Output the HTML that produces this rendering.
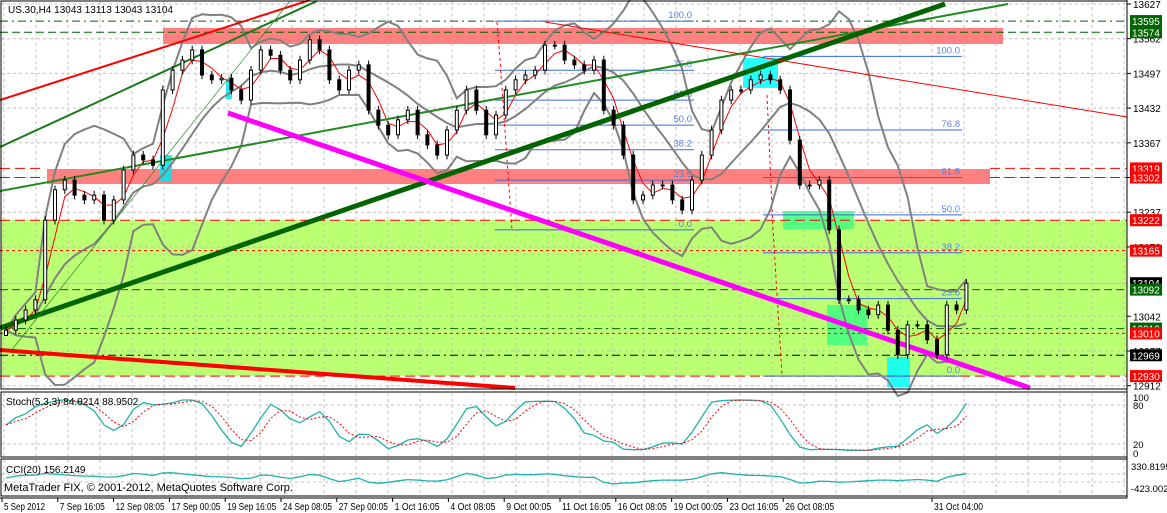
<!DOCTYPE html>
<html><head><meta charset="utf-8"><style>
body{margin:0;background:#fff;width:1167px;height:513px;overflow:hidden}
svg{display:block;font-family:"Liberation Sans",sans-serif;font-size:10.5px}
</style></head><body>
<svg id="c" width="1167" height="513">
<g id="g"></g>
</svg>
<script>
const closes=[13016,13035,13054,13073,13222,13279,13297,13269,13260,13269,13222,13260,13316,13344,13335,13325,13466,13503,13522,13541,13494,13485,13488,13466,13447,13503,13541,13531,13503,13485,13522,13560,13541,13485,13466,13503,13513,13428,13400,13382,13410,13428,13382,13363,13344,13391,13428,13466,13428,13382,13419,13466,13485,13494,13503,13550,13550,13522,13513,13503,13522,13428,13400,13344,13260,13269,13288,13288,13260,13241,13297,13344,13391,13447,13466,13466,13485,13494,13485,13466,13372,13288,13288,13297,13204,13073,13073,13054,13045,13063,13016,12970,13026,13026,12998,12970,13063,13054,13104];
const priceTicks=[13627,13562,13497,13432,13367,13302,13237,13172,13042,12977,12912];
const timeLabels=["5 Sep 2012","7 Sep 16:05","12 Sep 08:05","17 Sep 00:05","19 Sep 16:05","24 Sep 08:05","27 Sep 00:05","1 Oct 16:05","4 Oct 08:05","9 Oct 00:05","11 Oct 16:05","16 Oct 08:05","19 Oct 00:05","23 Oct 16:05","26 Oct 08:05","31 Oct 04:00"];
const fibLevels=["100.0","76.8","61.8","50.0","38.2","23.6","0.0"];
const fibLeft=[13595,13503,13447,13400,13354,13297,13204];
const fibRight=[13529,13391,13302,13232,13161,13075,12930];

const NS="http://www.w3.org/2000/svg";
const G=document.getElementById('g');
function el(t,a,txt){const e=document.createElementNS(NS,t);for(const k in a)e.setAttribute(k,a[k]);if(txt!==undefined)e.textContent=txt;G.appendChild(e);return e;}
const py=p=>4+(13627-p)*34.7/65;
const bx=i=>6+i*9.8;
const W=1127;

let e=el('rect',{x:1,y:py(13222),width:W-1,height:py(12930)-py(13222),fill:'#bbff73'});

for(let x=4;x<W;x+=32){el('line',{x1:x,y1:1,x2:x,y2:389,stroke:'#c0c0c0','stroke-dasharray':'3,3'});el('line',{x1:x,y1:393,x2:x,y2:457,stroke:'#c0c0c0','stroke-dasharray':'3,3'});el('line',{x1:x,y1:460,x2:x,y2:495,stroke:'#c0c0c0','stroke-dasharray':'3,3'});}
priceTicks.forEach(p=>el('line',{x1:1,y1:py(p),x2:W,y2:py(p),stroke:'#c0c0c0','stroke-dasharray':'3,3'}));
[405,444].forEach(y=>el('line',{x1:1,y1:y,x2:W,y2:y,stroke:'#c0c0c0','stroke-dasharray':'3,3'}));
[474,482].forEach(y=>el('line',{x1:1,y1:y,x2:W,y2:y,stroke:'#c0c0c0','stroke-dasharray':'3,3'}));

e=el('rect',{x:163,y:28,width:840,height:16,fill:'#ff8080'});
e=el('rect',{x:47,y:169,width:943,height:15,fill:'#ff8080'});
[[160,155,12,27,'#00e5ee'],[226,79,6,20,'#00e5ee'],[743,58,35,30,'#00ffff'],[783,211,71,18,'#40ff80'],[827,305,40,40,'#40ff80'],[887,357,23,30,'#00ffff']].forEach(b=>el('rect',{x:b[0],y:b[1],width:b[2],height:b[3],fill:b[4],opacity:.85}));

function hl(p,c,d,x1=0){el('line',{x1:x1,y1:py(p),x2:W,y2:py(p),stroke:c,'stroke-dasharray':d});}
hl(13595,'#006400','8,4,2,4');hl(13574,'#006400','8,4');hl(13319,'#f00','10,5',990);hl(13302,'#f00','10,5',990);
el('line',{x1:0,y1:py(13319),x2:45,y2:py(13319),stroke:'#f00','stroke-dasharray':'10,5'});el('line',{x1:0,y1:py(13302),x2:45,y2:py(13302),stroke:'#f00','stroke-dasharray':'10,5'});
hl(13222,'#f00','10,5');hl(13165,'#f00','3,3');hl(13104,'#c0c0c0','');hl(13092,'#006400','8,4');hl(13092,'#ff00ff','3,9');
hl(13019,'#006400','8,4,2,4');hl(13010,'#f00','3,3');hl(12969,'#000','8,4,2,4');hl(12930,'#f00','10,5');

function fib(arr,x1,x2,name){arr.forEach((p,i)=>{const l=el('line',{x1:x1,y1:py(p),x2:x2,y2:py(p),stroke:'#3a6bdc'});el('text',{x:x2-2,y:py(p)-3,fill:'#5a80e0','text-anchor':'end','font-size':'9.5'},fibLevels[i]);});}
fib(fibLeft,495,694,'fib-left');fib(fibRight,763,962,'fib-right');
el('polyline',{points:'497,22 500,60 512,230',fill:'none',stroke:'#f00','stroke-dasharray':'3,3'});
el('polyline',{points:'767,95 773,230 782,375',fill:'none',stroke:'#f00','stroke-dasharray':'3,3'});

const n=closes.length;
const highs=closes.map((c,i)=>Math.max(c,i?closes[i-1]:c)+8),lows=closes.map((c,i)=>Math.min(c,i?closes[i-1]:c)-8);
const sma=(a,p)=>a.map((v,i)=>{const s=a.slice(Math.max(0,i-p+1),i+1);return s.reduce((x,y)=>x+y,0)/s.length;});
const ma=sma(closes,10);
const sd=closes.map((v,i)=>{const s=closes.slice(Math.max(0,i-9),i+1);const m=s.reduce((x,y)=>x+y,0)/s.length;return Math.sqrt(s.reduce((x,y)=>x+(y-m)**2,0)/s.length);});
const pl=(arr,f)=>arr.map((v,i)=>bx(i).toFixed(1)+','+f(v,i).toFixed(1)).join(' ');
e=el('polyline',{points:pl(ma,(v,i)=>py(v+2*sd[i])),fill:'none',stroke:'#808080','stroke-width':2});
e=el('polyline',{points:pl(ma,(v,i)=>py(v-2*sd[i])),fill:'none',stroke:'#808080','stroke-width':2});
e=el('polyline',{points:pl(ma,v=>py(v)),fill:'none',stroke:'#808080','stroke-width':2});
e=el('polyline',{points:pl(sma(closes,3),v=>py(v)),fill:'none',stroke:'#f00','stroke-width':1});

function tl(x1,y1,x2,y2,c,w,name){const l=el('line',{x1,y1,x2,y2,stroke:c,'stroke-width':w});}
tl(0,100,310,0,'#f00',2,'red-trendline-upper');
tl(0,147,317,1,'#1a7a1a',2,'green-channel-upper');
tl(0,191,1008,4,'#228b22',2,'green-trendline-thin');
tl(0,328,945,4,'#006400',5,'green-trendline-thick');
tl(10,352,290,1,'#228b22',0.7,'green-trendline-steep');
tl(0,350,515,388,'#f00',4,'red-trendline-lower');
tl(545,22,1127,117,'#f00',1,'red-trendline-falling');
tl(228,113,1030,388,'#ff00ff',5,'magenta-trendline');

closes.forEach((c,i)=>{const o=i?closes[i-1]:c-10,x=bx(i);
el('line',{x1:x,y1:py(highs[i]),x2:x,y2:py(lows[i]),stroke:'#000'});
const r=el('rect',{x:x-1.5,y:py(Math.max(o,c)),width:3,height:Math.max(1,Math.abs(py(o)-py(c))),fill:c>=o?'#fff':'#000',stroke:'#000','stroke-width':1});
});

const kRaw=closes.map((c,i)=>{const s=Math.max(0,i-4);const hh=Math.max(...highs.slice(s,i+1)),ll=Math.min(...lows.slice(s,i+1));return hh>ll?100*(c-ll)/(hh-ll):50;});
const K=sma(kRaw,3),D=sma(K,3);
const sy=v=>452-v*0.54;
e=el('polyline',{points:pl(K,sy),fill:'none',stroke:'#20b2aa','stroke-width':1.3});
e=el('polyline',{points:pl(D,sy),fill:'none',stroke:'#f00','stroke-dasharray':'2,2'});
const tp=closes.map((c,i)=>(c+highs[i]+lows[i])/3),tpm=sma(tp,10);
const cci=tp.map((v,i)=>{const s=tp.slice(Math.max(0,i-9),i+1);const md=s.reduce((x,y)=>x+Math.abs(y-tpm[i]),0)/s.length;return md?(v-tpm[i])/(0.015*md):0;});
const cy=v=>478-Math.max(-423,Math.min(330,v))*0.028;
e=el('polyline',{points:pl(cci,cy),fill:'none',stroke:'#20b2aa','stroke-width':1.3});

[[1,1,W-1,388],[1,392,W-1,65],[1,459,W-1,37]].forEach(f=>el('rect',{x:f[0],y:f[1],width:f[2],height:f[3],fill:'none',stroke:'#000'}));
el('rect',{x:W+1,y:0,width:40,height:513,fill:'#fff'});
el('line',{x1:W,y1:0,x2:W,y2:498,stroke:'#000'});
el('line',{x1:0,y1:498,x2:W,y2:498,stroke:'#000'});

priceTicks.forEach(p=>{el('line',{x1:W,y1:py(p),x2:W+4,y2:py(p),stroke:'#000'});const t=el('text',{x:W+6,y:py(p)+4,'font-size':'10'},p);});
[[13595,'#006400'],[13574,'#006400'],[13319,'#f00'],[13302,'#f00'],[13222,'#f00'],[13165,'#f00'],[13104,'#000'],[13092,'#006400'],[13019,'#006400'],[13010,'#f00'],[12969,'#000'],[12930,'#f00']].forEach(a=>{
 const y=py(a[0]);el('rect',{x:W+3,y:y-6,width:32,height:12,fill:a[1]});const t=el('text',{x:W+5,y:y+4,fill:'#fff','font-size':'10'},a[0]);});
[[100,398],[80,406],[20,445],[0,454]].forEach(a=>el('text',{x:W+6,y:a[1]+3,'font-size':'9.5'},a[0]));
el('text',{x:W+4,y:470,'font-size':'9.5'},'330.8195');el('text',{x:W+4,y:492,'font-size':'9.5'},'-423.0027');

timeLabels.forEach((t,i)=>{const x=i<15?2+i*55.8:932;el('line',{x1:x,y1:498,x2:x,y2:502,stroke:'#000'});const tx=el('text',{x:x+2,y:510,'font-size':'10',textLength:(t.length*4.1).toFixed(0),lengthAdjust:'spacingAndGlyphs'},t);});

e=el('text',{x:8,y:13,'font-size':'10'},'US.30,H4  13043 13113 13043 13104');
el('text',{x:6,y:405,'font-size':'10'},'Stoch(5,3,3) 84.8214 88.9502');
el('text',{x:6,y:473,'font-size':'10'},'CCI(20) 156.2149');
el('text',{x:4,y:491,'font-size':'11'},'MetaTrader FIX, © 2001-2012, MetaQuotes Software Corp.');
</script>
</body></html>
